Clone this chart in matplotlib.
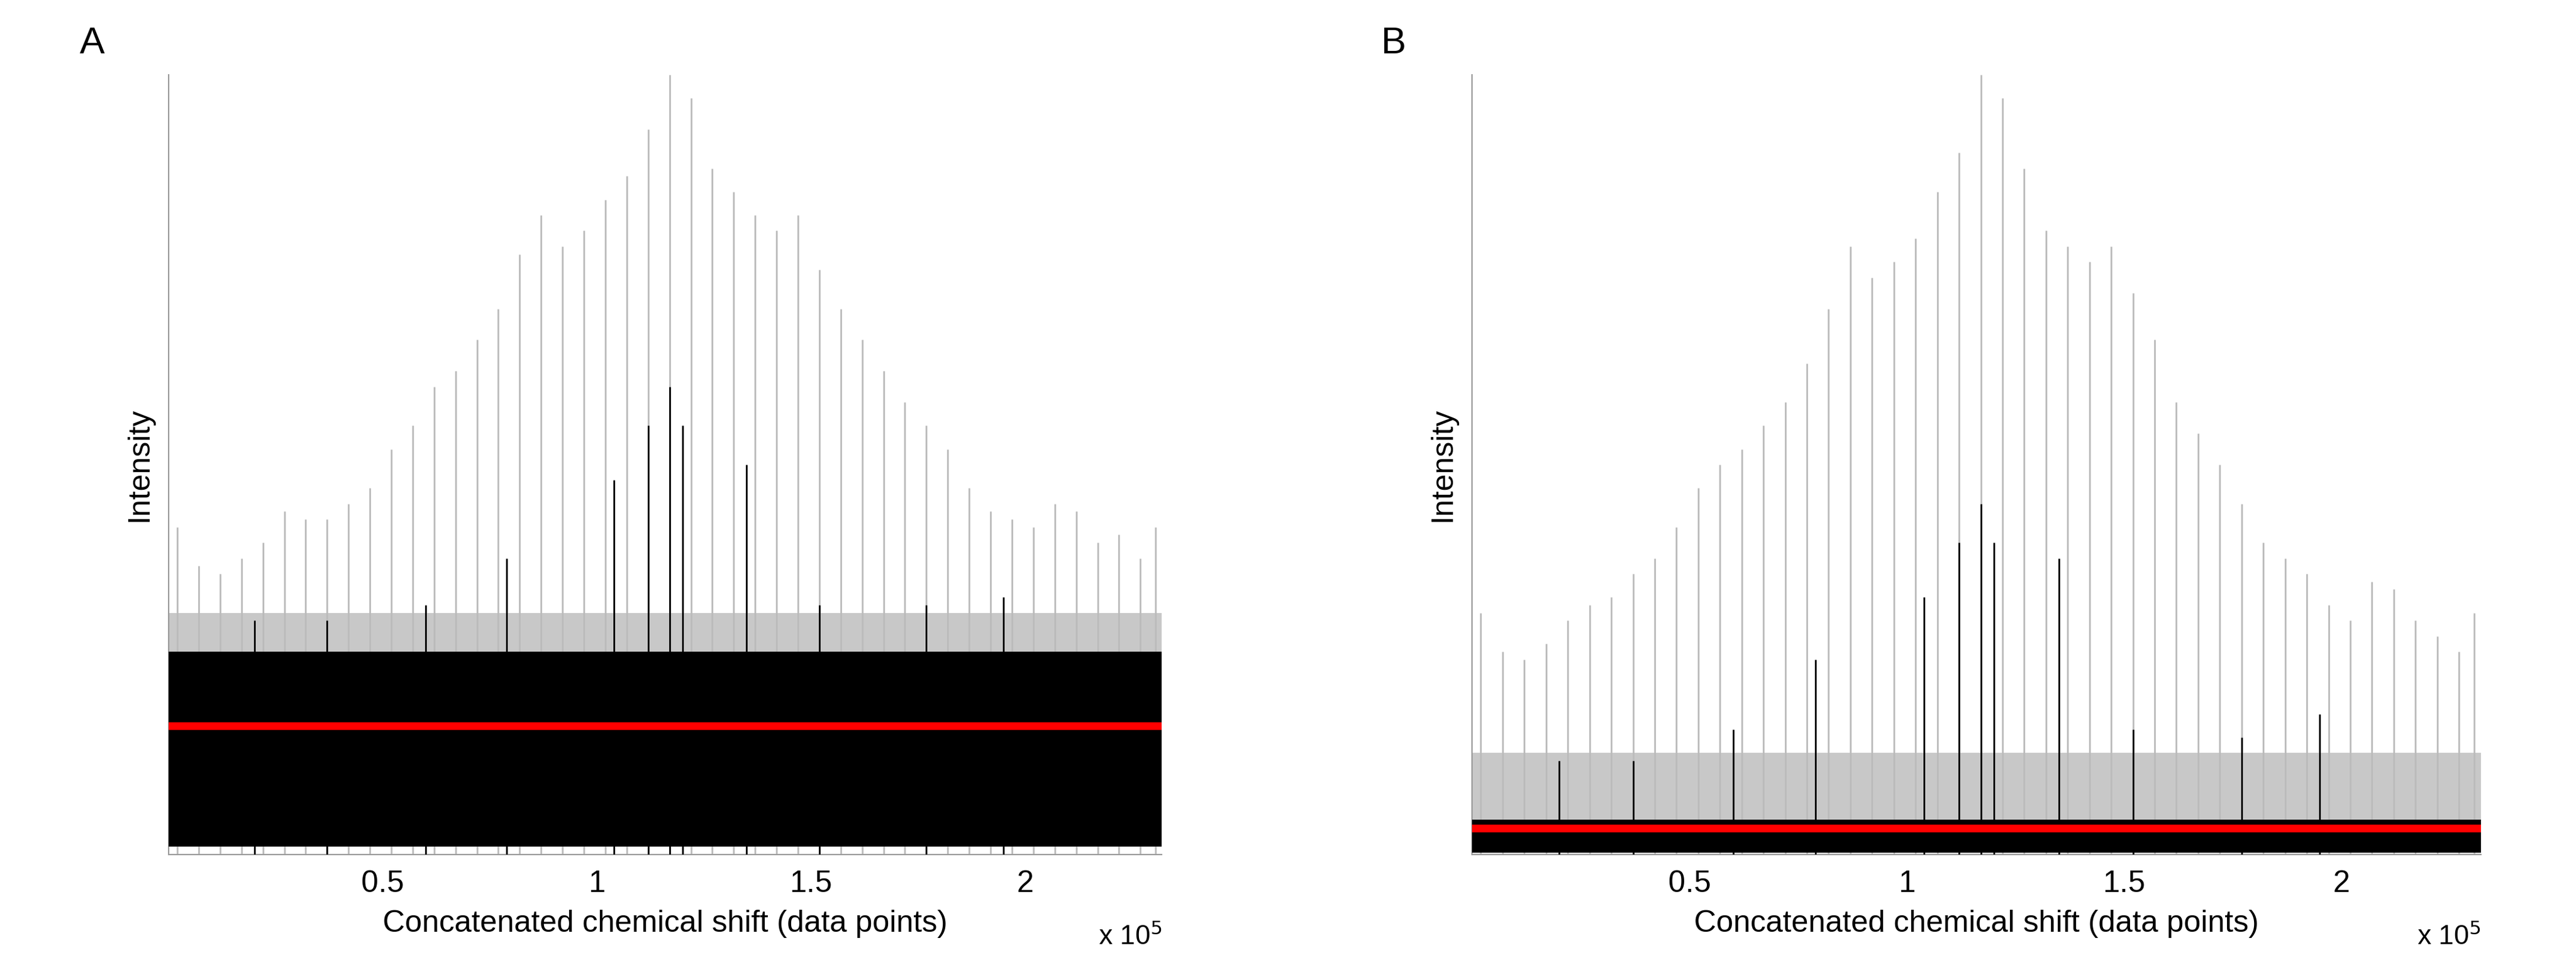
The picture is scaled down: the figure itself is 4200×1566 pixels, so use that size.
import numpy as np
import matplotlib
matplotlib.use("Agg")
import matplotlib.pyplot as plt

plt.rcParams['font.family'] = ['Liberation Sans', 'DejaVu Sans']

# peak positions (data points) and normalised peak heights
peak_pos = [2000, 7000, 12000, 17000, 22000, 27000, 32000, 37000, 42000, 47000,
            52000, 57000, 62000, 67000, 72000, 77000, 82000, 87000, 92000, 97000,
            102000, 107000, 112000, 117000, 122000, 127000, 132000, 137000, 142000, 147000,
            152000, 157000, 162000, 167000, 172000, 177000, 182000, 187000, 192000, 197000,
            202000, 207000, 212000, 217000, 222000, 227000, 230500]
heights_A = [0.42, 0.37, 0.36, 0.38, 0.40, 0.44, 0.43, 0.43, 0.45, 0.47,
             0.52, 0.55, 0.60, 0.62, 0.66, 0.70, 0.77, 0.82, 0.78, 0.80,
             0.84, 0.87, 0.93, 1.00, 0.97, 0.88, 0.85, 0.82, 0.80, 0.82,
             0.75, 0.70, 0.66, 0.62, 0.58, 0.55, 0.52, 0.47, 0.44, 0.43,
             0.42, 0.45, 0.44, 0.40, 0.41, 0.38, 0.42]
heights_B = [0.31, 0.26, 0.25, 0.27, 0.30, 0.32, 0.33, 0.36, 0.38, 0.42,
             0.47, 0.50, 0.52, 0.55, 0.58, 0.63, 0.70, 0.78, 0.74, 0.76,
             0.79, 0.85, 0.90, 1.00, 0.97, 0.88, 0.80, 0.78, 0.76, 0.78,
             0.72, 0.66, 0.58, 0.54, 0.50, 0.45, 0.40, 0.38, 0.36, 0.32,
             0.30, 0.35, 0.34, 0.30, 0.28, 0.26, 0.31]
# strong black spikes (position, height)
black_pos = [20000, 37000, 60000, 79000, 104000, 112000, 117000, 120000, 135000, 152000, 177000, 195000]
black_A = [0.30, 0.30, 0.32, 0.38, 0.48, 0.55, 0.60, 0.55, 0.50, 0.32, 0.32, 0.33]
black_B = [0.12, 0.12, 0.16, 0.25, 0.33, 0.40, 0.45, 0.40, 0.38, 0.16, 0.15, 0.18]
# noise band (bottom, black top, grey top) and red threshold
band_A = [0.01, 0.26, 0.31]
band_B = [0.002, 0.045, 0.13]
thresh_A = 0.165
thresh_B = 0.034

fig = plt.figure(figsize=(42, 15.66), dpi=100)
axes_pos = [[0.0655, 0.11, 0.3855, 0.812], [0.5715, 0.11, 0.3915, 0.812]]
panels = [("A", heights_A, black_A, band_A, thresh_A),
          ("B", heights_B, black_B, band_B, thresh_B)]

for pos, (lab, h, bh, band, th) in zip(axes_pos, panels):
    ax = fig.add_axes(pos)
    xb = [0, 232000]
    ax.fill_between(xb, band[0], band[2], color="#c8c8c8", lw=0, zorder=1)
    ax.vlines(peak_pos, 0, h, color="#bbbbbb", lw=2, zorder=2)
    ax.fill_between(xb, band[0], band[1], color="black", lw=0, zorder=3)
    ax.vlines(black_pos, 0, bh, color="black", lw=2, zorder=4)
    ax.axhline(th, color="red", lw=9, zorder=5)
    ax.set_xlim(0, 232000)
    ax.set_ylim(0, 1.0)
    ax.set_xticks([50000, 100000, 150000, 200000])
    ax.set_xticklabels(["0.5", "1", "1.5", "2"])
    ax.set_yticks([])
    ax.tick_params(axis="x", length=0, labelsize=36, pad=18)
    for s in ["top", "right"]:
        ax.spines[s].set_visible(False)
    for s in ["left", "bottom"]:
        ax.spines[s].set_color("#999999")
        ax.spines[s].set_linewidth(1.5)
    ax.set_xlabel("Concatenated chemical shift (data points)", fontsize=36, labelpad=14)
    ax.set_ylabel("Intensity", fontsize=36, labelpad=18)
    ax.text(1.0, -0.088, r"x 10$^5$", transform=ax.transAxes, ha="right", va="top", fontsize=32)
    ax.text(-0.09, 1.04, lab, transform=ax.transAxes, ha="left", va="center", fontsize=44)

fig.savefig("out.png", dpi=100)
